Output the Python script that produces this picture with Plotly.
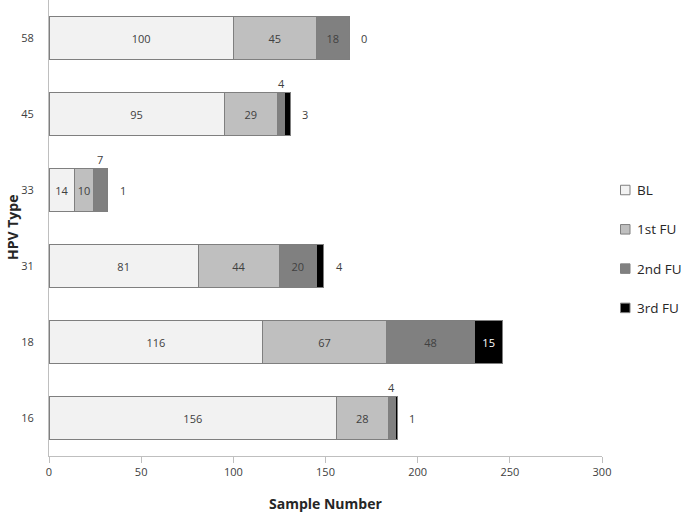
import plotly.graph_objects as go

categories = ["16", "18", "31", "33", "45", "58"]
series_names = ["BL", "1st FU", "2nd FU", "3rd FU"]
bl = [156, 116, 81, 14, 95, 100]
fu1 = [28, 67, 44, 10, 29, 45]
fu2 = [4, 48, 20, 7, 4, 18]
fu3 = [1, 15, 4, 1, 3, 0]
x_ticks = [0, 50, 100, 150, 200, 250, 300]

series = [bl, fu1, fu2, fu3]
fills = ["#f2f2f2", "#bfbfbf", "#808080", "#000000"]
font_fam = "Open Sans, Noto Sans, sans-serif"
txt_col = "#404040"
BAR_W = 0.57
FS = 11

W, H = 685, 512
ML, MR, MT, MB = 49, 83, 0, 56
PW, PH = W - ML - MR, H - MT - MB


def px_x(px):
    return (px - ML) / PW


def px_y(py):
    return (H - MB - py) / PH


fig = go.Figure()
annotations = []
shapes = []
base = [0] * len(categories)
for si, (name, vals, col) in enumerate(zip(series_names, series, fills)):
    inside_txt = []
    for ci, v in enumerate(vals):
        if si == 2 and v < 10:
            inside_txt.append("")
            annotations.append(dict(x=base[ci] + v / 2, y=ci + BAR_W / 2, xref="x", yref="y",
                                    text=str(v), showarrow=False, yanchor="bottom", yshift=-1,
                                    font=dict(family=font_fam, size=FS, color=txt_col)))
        elif si == 3 and v < 10:
            inside_txt.append("")
            annotations.append(dict(x=base[ci] + v, y=ci, xref="x", yref="y",
                                    text=str(v), showarrow=False, xanchor="left", xshift=10,
                                    font=dict(family=font_fam, size=FS, color=txt_col)))
        else:
            inside_txt.append(str(v))
    fig.add_trace(go.Bar(
        y=categories, x=vals, orientation="h", name=name, width=BAR_W,
        marker=dict(color=col, line=dict(color="#7f7f7f", width=1)),
        text=inside_txt, textposition="inside", insidetextanchor="middle",
        textangle=0, constraintext="none", cliponaxis=False,
        textfont=dict(family=font_fam, size=FS, color=txt_col if si < 3 else "#ffffff"),
    ))
    base = [b + v for b, v in zip(base, vals)]

    # custom legend entry
    cy = 190 + si * 39.3
    shapes.append(dict(type="rect", xref="paper", yref="paper",
                       x0=px_x(620.5), x1=px_x(630), y0=px_y(cy + 4.75), y1=px_y(cy - 4.75),
                       fillcolor=col, line=dict(color="#7f7f7f", width=1)))
    annotations.append(dict(text=name, xref="paper", yref="paper", x=px_x(635), y=px_y(cy),
                            xanchor="left", yanchor="middle", showarrow=False,
                            font=dict(family=font_fam, size=13.5, color="#262626")))

annotations.append(dict(text="<b>Sample Number</b>", xref="paper", yref="paper",
                        x=0.5, y=0, yanchor="middle", showarrow=False,
                        yshift=-47,
                        font=dict(family=font_fam, size=14, color="#262626")))
annotations.append(dict(text="<b>HPV Type</b>", xref="paper", yref="paper",
                        x=0, y=0.5, xanchor="center", yanchor="middle", showarrow=False,
                        xshift=-37, textangle=-90,
                        font=dict(family=font_fam, size=14, color="#262626")))

fig.update_layout(
    barmode="stack",
    width=W, height=H,
    margin=dict(l=ML, r=MR, t=MT, b=MB),
    plot_bgcolor="white", paper_bgcolor="white",
    font=dict(family=font_fam, size=FS, color=txt_col),
    annotations=annotations,
    shapes=shapes,
    showlegend=False,
)
fig.update_xaxes(range=[0, 300], tickvals=x_ticks, ticktext=[str(t) for t in x_ticks],
                 showgrid=False, zeroline=False, showline=True, linecolor="#bfbfbf",
                 ticks="outside", ticklen=6, tickcolor="#bfbfbf", automargin=False,
                 tickfont=dict(family=font_fam, size=FS, color=txt_col))
fig.update_yaxes(range=[-0.5, 5.5], showgrid=False, zeroline=False, showline=True,
                 linecolor="#bfbfbf", ticks="", ticklabelstandoff=12, automargin=False,
                 tickfont=dict(family=font_fam, size=FS, color=txt_col))

fig.write_html("out.html", config={"displayModeBar": False},
               post_script="document.body.style.margin='0';document.body.style.overflow='hidden';")
